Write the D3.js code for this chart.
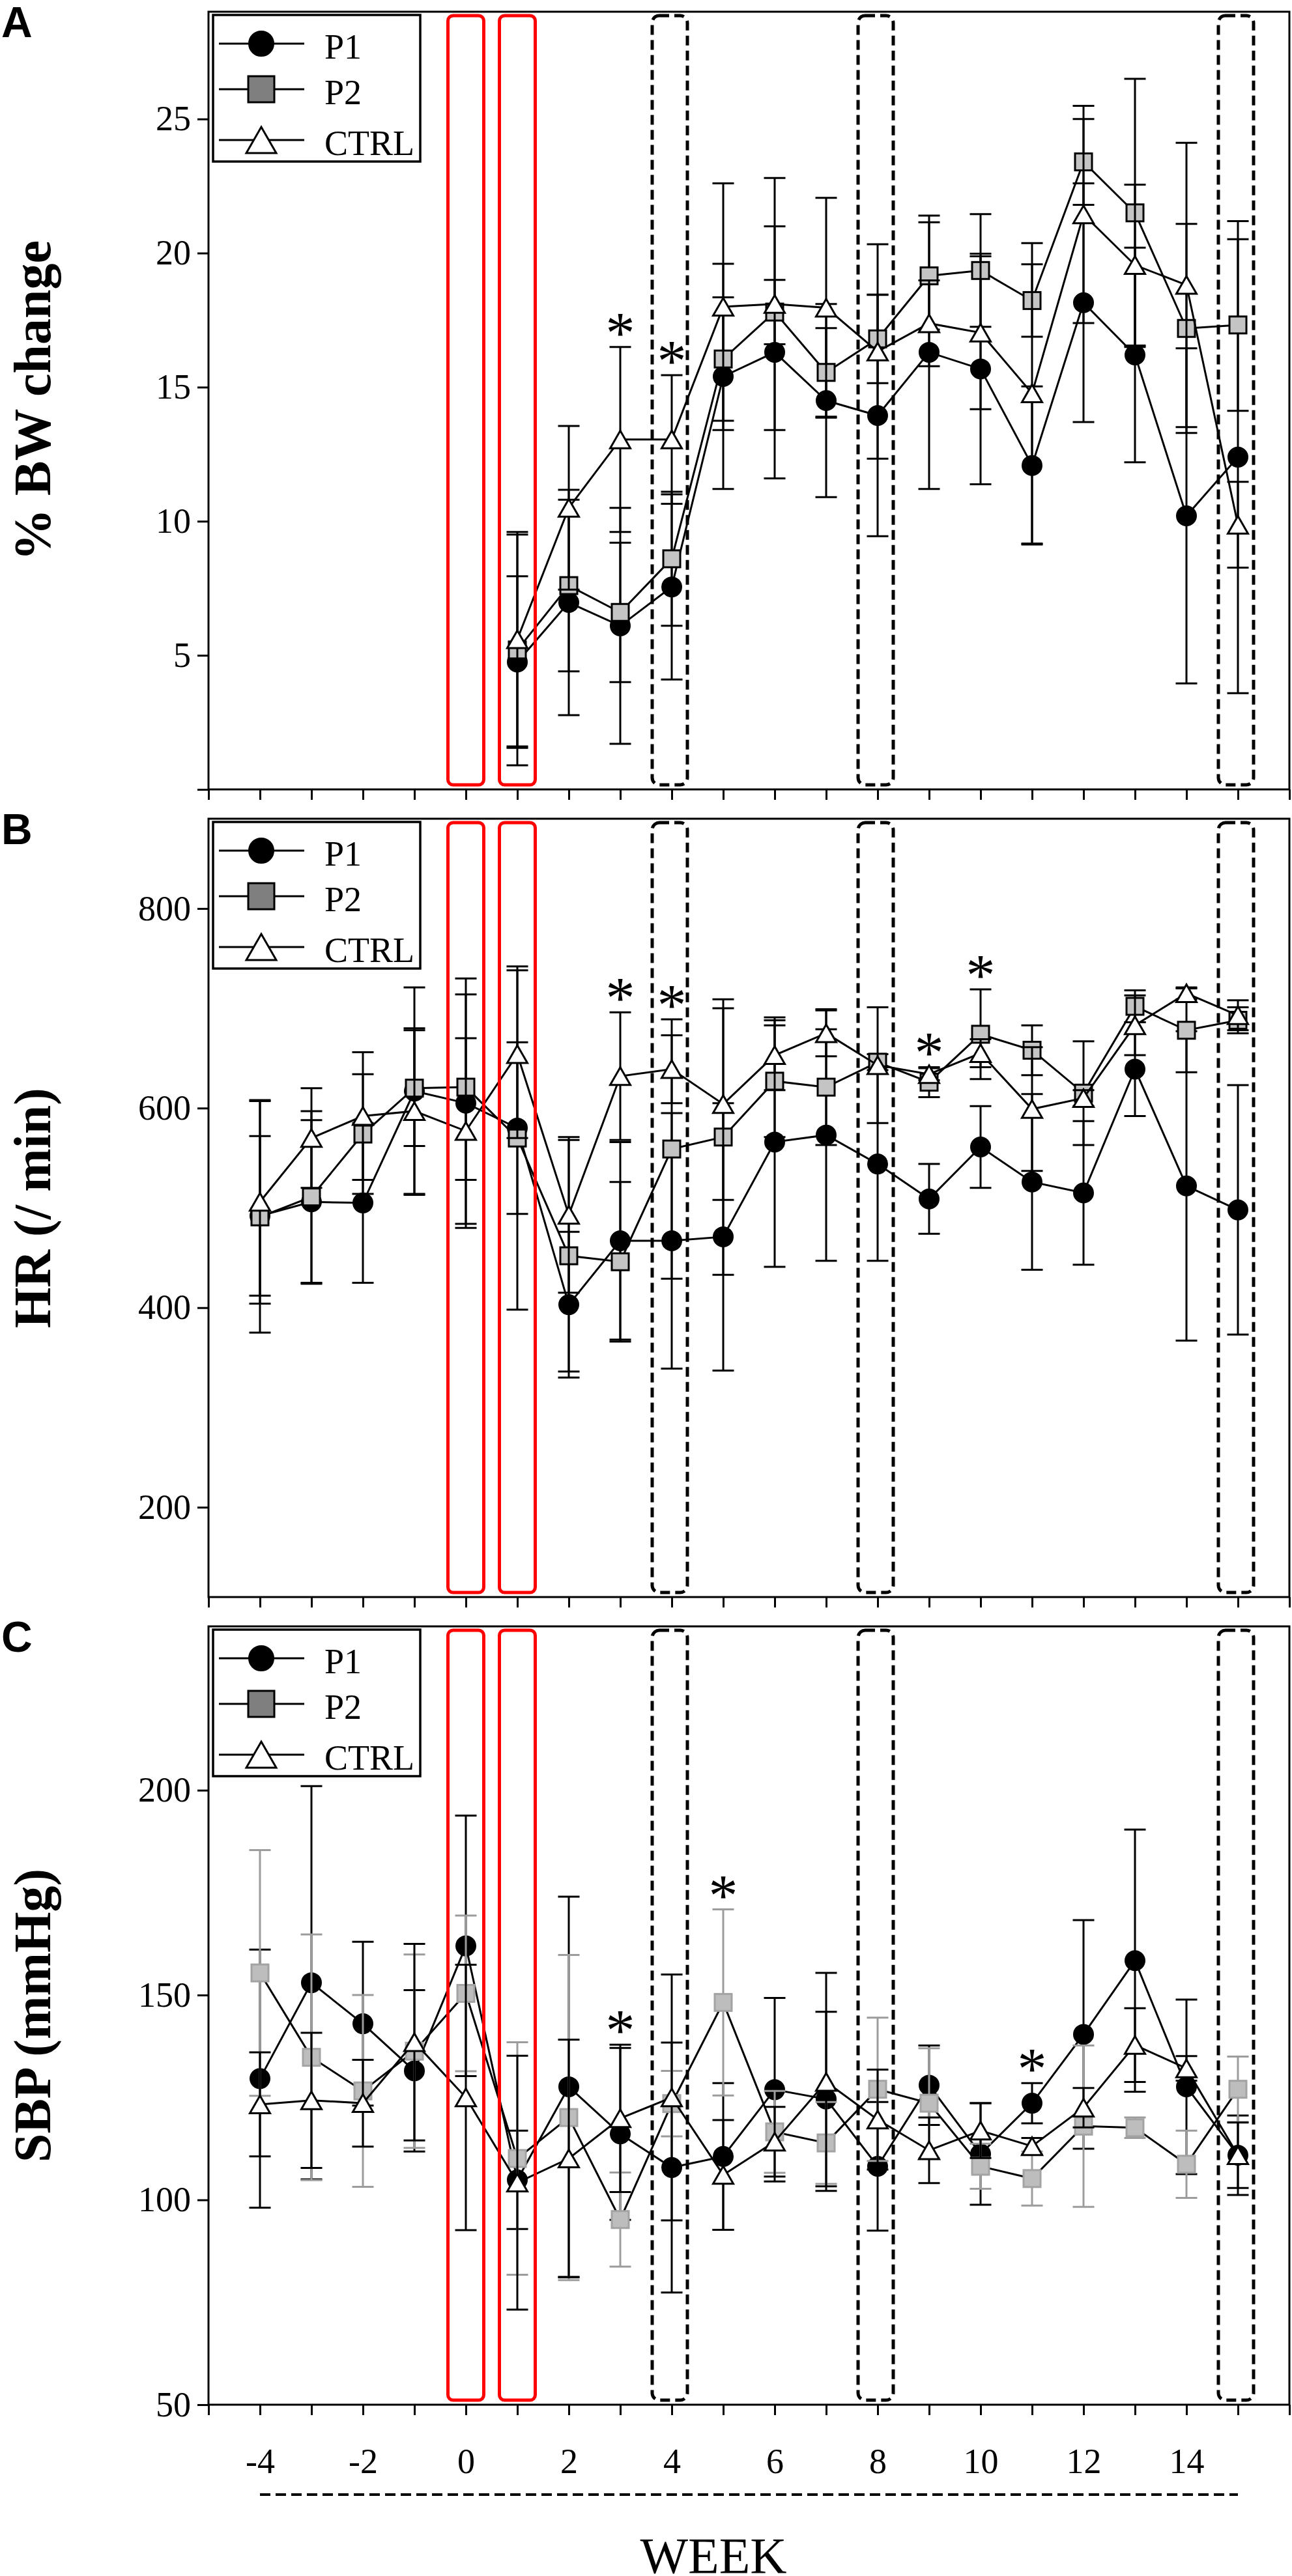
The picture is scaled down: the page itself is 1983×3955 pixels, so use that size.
<!DOCTYPE html>
<html>
<head>
<meta charset="utf-8">
<script src="https://cdn.jsdelivr.net/npm/d3@7"></script>
<style>
  body { margin: 0; background: #fff; }
</style>
</head>
<body>
<svg id="chart" width="1983" height="3955"></svg>
<script>
// weeks and ticks
const weeksA = d3.range(1, 16);
const weeksBC = d3.range(-4, 16);
const xTicks = d3.range(-5, 17);
const xLabels = [-4, -2, 0, 2, 4, 6, 8, 10, 12, 14];
const redWeeks = [0, 1];
const dashWeeks = [4, 8, 15];

// A: % body weight change (weeks 1..15)
const bwP1 = [4.75, 6.97, 6.1, 7.55, 15.4, 16.3, 14.5, 13.94, 16.3, 15.68, 12.08, 18.15, 16.2, 10.2, 12.39];
const bwP1Err = [3.2, 4.2, 4.4, 3.45, 4.2, 4.7, 3.6, 4.5, 5.1, 4.3, 2.95, 4.45, 4.0, 6.25, 8.8];
const bwP2 = [5.2, 7.6, 6.6, 8.6, 16.05, 17.8, 15.55, 16.8, 19.15, 19.35, 18.23, 23.4, 21.5, 17.19, 17.32];
const bwP2Err = [4.3, 3.2, 2.6, 2.5, 2.3, 1.2, 1.65, 1.65, 2.0, 2.1, 1.35, 1.6, 5.0, 3.9, 3.2];
const bwCtrl = [5.6, 10.5, 13.05, 13.05, 18.0, 18.1, 17.96, 16.33, 17.38, 17.03, 14.77, 21.44, 19.55, 18.81, 9.87];
const bwCtrlErr = [4.0, 3.05, 3.45, 2.4, 4.6, 4.7, 4.1, 4.0, 1.6, 2.85, 5.6, 4.05, 3.0, 5.3, 1.6];
const bwTicks = [0, 5, 10, 15, 20, 25];
const bwStars = [3, 4];

// B: heart rate (weeks -4..15)
const hrP1 = [492, 506, 505, 617, 605, 580, 403, 467, 467, 471, 566, 573, 544, 509, 561, 526, 515, 639, 522, 498];
const hrP1Err = [80, 82, 80, 104, 125, 86, 73, 99, 128, 134, 125, 126, 97, 35, 41, 88, 72, 47, 155, 125];
const hrP2 = [491, 511, 574, 620, 621, 570, 452, 446, 559, 571, 627, 621, 646, 626, 674, 658, 615, 702, 678, 688];
const hrP2Err = [116, 86, 60, 58, 93, 172, 116, 80, 130, 138, 56, 58, 8, 15, 45, 25, 52, 16, 42, 13];
const hrCtrl = [506, 570, 592, 597, 577, 654, 493, 632, 639, 604, 653, 675, 643, 634, 655, 599, 610, 683, 715, 693];
const hrCtrlErr = [102, 50, 64, 83, 93, 84, 78, 64, 34, 96, 35, 23, 58, 6, 14, 62, 8, 30, 6, 15];
const hrTicks = [200, 400, 600, 800];
const hrStars = [3, 4, 9, 10];

// C: systolic blood pressure (weeks -4..15)
const sbpP1 = [129.6, 153, 143, 131.5, 162, 104.9, 127.6, 116.1, 107.9, 110.6, 126.9, 124.6, 108.2, 128, 111.2, 123.6, 140.4, 158.4, 127.6, 110.9];
const sbpP1Err = [31.5, 48, 20, 19.7, 31.8, 12, 46.4, 21, 30.5, 17.9, 22.4, 21.3, 15.7, 9.7, 12.4, 4.9, 27.9, 32, 21.3, 9.7];
const sbpP2 = [155.4, 134.8, 126.6, 136.3, 150.4, 110.1, 120.1, 95.2, 123.5, 148.2, 116.6, 113.9, 127, 123.6, 108.2, 105.2, 118, 117.6, 108.7, 127];
const sbpP2Err = [30, 30, 23.4, 23.6, 19, 28.4, 39.7, 11.5, 8, 22.7, 10, 10, 17.5, 13.4, 5.5, 6.6, 19.7, 2.5, 8.2, 8];
const sbpCtrl = [123.3, 124.3, 123.6, 138.5, 125, 104.2, 110.1, 119.9, 125, 106.1, 114.2, 128.8, 119.6, 112.1, 116.9, 113.1, 122.5, 137.8, 132.1, 110.9];
const sbpCtrlErr = [12.7, 16.5, 10.6, 24, 32.4, 31, 29, 18, 30, 13.4, 8.5, 26.6, 12.2, 8, 6.7, 2, 4.8, 9, 3, 8];
const sbpTicks = [50, 100, 150, 200];
const sbpStars = [3, 5, 11];

const SERIF = '"Liberation Serif", "Times New Roman", Times, serif';

const svg = d3.select('#chart');
svg.append('rect').attr('width', 1983).attr('height', 3955).attr('fill', '#fff');

const x = d3.scaleLinear().domain([-5, 16]).range([320, 1979]);

// build series list for a panel
function makeSeries(weeks, p1, p1e, p2, p2e, c, ce, lightP2) {
    return [
        { name: 'P1', shape: 'circle', fill: '#000', stroke: '#000', bar: '#000',
          pts: weeks.map((w, i) => ({ w, m: p1[i], e: p1e[i] })) },
        { name: 'P2', shape: 'square', fill: lightP2 ? '#bdbdbd' : '#c4c4c4', stroke: lightP2 ? '#a3a3a3' : '#000', bar: lightP2 ? '#9c9c9c' : '#000',
          pts: weeks.map((w, i) => ({ w, m: p2[i], e: p2e[i] })) },
        { name: 'CTRL', shape: 'triangle', fill: '#fff', stroke: '#000', bar: '#000',
          pts: weeks.map((w, i) => ({ w, m: c[i], e: ce[i] })) }
    ];
}

const panels = [
    { letter: 'A', title: '% BW change', top: 18, bottom: 1212, domain: [0, 29], ticks: bwTicks, stars: bwStars, labels: false,
      series: makeSeries(weeksA, bwP1, bwP1Err, bwP2, bwP2Err, bwCtrl, bwCtrlErr, false) },
    { letter: 'B', title: 'HR (/ min)', top: 1257, bottom: 2452, domain: [110, 890], ticks: hrTicks, stars: hrStars, labels: false,
      series: makeSeries(weeksBC, hrP1, hrP1Err, hrP2, hrP2Err, hrCtrl, hrCtrlErr, false) },
    { letter: 'C', title: 'SBP (mmHg)', top: 2497, bottom: 3692, domain: [50, 240], ticks: sbpTicks, stars: sbpStars, labels: true,
      series: makeSeries(weeksBC, sbpP1, sbpP1Err, sbpP2, sbpP2Err, sbpCtrl, sbpCtrlErr, true) }
];

// draw a marker shape
function drawMarker(g, shape, cx, cy, sz, fill, stroke) {
    if (shape === 'circle') {
        g.append('circle').attr('cx', cx).attr('cy', cy).attr('r', sz.r)
            .attr('fill', fill).attr('stroke', stroke).attr('stroke-width', 2);
    } else if (shape === 'square') {
        g.append('rect').attr('x', cx - sz.sq / 2).attr('y', cy - sz.sq / 2)
            .attr('width', sz.sq).attr('height', sz.sq)
            .attr('fill', fill).attr('stroke', stroke).attr('stroke-width', 3);
    } else {
        const w = sz.tw / 2, h = sz.th / 2;
        g.append('path')
            .attr('d', `M${cx},${cy - h}L${cx + w},${cy + h}L${cx - w},${cy + h}Z`)
            .attr('fill', fill).attr('stroke', stroke).attr('stroke-width', 3)
            .attr('stroke-linejoin', 'miter');
    }
}

const dataSize = { r: 15, sq: 26, tw: 31, th: 27 };
const legendSize = { r: 19, sq: 40, tw: 46, th: 40 };

panels.forEach(p => {
    const y = d3.scaleLinear().domain(p.domain).range([p.bottom, p.top]);
    const g = svg.append('g');

    // y axis
    const yAxis = g.append('g').attr('transform', 'translate(320,0)')
        .call(d3.axisLeft(y).tickValues(p.ticks).tickSize(17).tickPadding(10)
            .tickFormat(d => (p.letter === 'A' && d === 0) ? '' : d));
    yAxis.select('.domain').remove();
    yAxis.selectAll('line').attr('stroke', '#000').attr('stroke-width', 3);
    yAxis.selectAll('text').style('font-family', SERIF).style('font-size', '54px').attr('fill', '#000');

    // x axis
    const xAxis = g.append('g').attr('transform', `translate(0,${p.bottom})`)
        .call(d3.axisBottom(x).tickValues(xTicks).tickSize(16).tickPadding(51)
            .tickFormat(d => (p.labels && xLabels.includes(d)) ? d : ''));
    xAxis.select('.domain').remove();
    xAxis.selectAll('line').attr('stroke', '#000').attr('stroke-width', 3);
    xAxis.selectAll('text').style('font-family', SERIF).style('font-size', '54px').attr('fill', '#000');

    // frame
    g.append('rect').attr('x', 320).attr('y', p.top).attr('width', 1979 - 320).attr('height', p.bottom - p.top)
        .attr('fill', 'none').attr('stroke', '#000').attr('stroke-width', 3);

    // series: lines, error bars, markers
    const line = d3.line().x(d => x(d.w)).y(d => y(d.m));
    p.series.forEach(s => {
        g.append('path').datum(s.pts).attr('d', line)
            .attr('fill', 'none').attr('stroke', '#000').attr('stroke-width', 3);
        const eb = g.append('g').attr('stroke', s.bar).attr('stroke-width', 3);
        s.pts.forEach(d => {
            const cx = x(d.w), y0 = y(d.m + d.e), y1 = y(d.m - d.e);
            eb.append('line').attr('x1', cx).attr('x2', cx).attr('y1', y0).attr('y2', y1);
            eb.append('line').attr('x1', cx - 16.5).attr('x2', cx + 16.5).attr('y1', y0).attr('y2', y0);
            eb.append('line').attr('x1', cx - 16.5).attr('x2', cx + 16.5).attr('y1', y1).attr('y2', y1);
        });
        s.pts.forEach(d => drawMarker(g, s.shape, x(d.w), y(d.m), dataSize, s.fill, s.stroke));
    });

    // significance asterisks above the highest error bar
    p.stars.forEach(w => {
        const tops = p.series.map(s => {
            const d = s.pts.find(q => q.w === w);
            return d ? d.m + d.e : -Infinity;
        });
        const cy = y(d3.max(tops)) - 33;
        g.append('text').attr('x', x(w)).attr('y', cy + 42)
            .attr('text-anchor', 'middle').style('font-family', SERIF).style('font-size', '90px').text('*');
    });

    // highlight boxes
    redWeeks.forEach(w => {
        g.append('rect').attr('x', x(w) - 27.5).attr('y', p.top + 6)
            .attr('width', 55).attr('height', p.bottom - p.top - 13)
            .attr('rx', 8).attr('fill', 'none').attr('stroke', '#ff0000').attr('stroke-width', 5);
    });
    dashWeeks.forEach(w => {
        g.append('rect').attr('x', x(w) - 3 - 27).attr('y', p.top + 6)
            .attr('width', 54).attr('height', p.bottom - p.top - 13)
            .attr('rx', 11).attr('fill', 'none').attr('stroke', '#000').attr('stroke-width', 5)
            .attr('stroke-dasharray', '15,8');
    });

    // legend
    const lg = g.append('g').attr('transform', `translate(0,${p.top})`);
    lg.append('rect').attr('x', 327).attr('y', 5).attr('width', 318).attr('height', 225)
        .attr('fill', '#fff').attr('stroke', '#000').attr('stroke-width', 3.5);
    const rows = [49, 119, 197];
    p.series.forEach((s, i) => {
        const ry = rows[i];
        lg.append('line').attr('x1', 336).attr('x2', 467).attr('y1', ry).attr('y2', ry)
            .attr('stroke', '#000').attr('stroke-width', 3);
        const fill = s.name === 'P2' ? '#7f7f7f' : s.fill;
        drawMarker(lg, s.shape, 401, ry, legendSize, fill, '#000');
        lg.append('text').attr('x', 498).attr('y', ry + 23)
            .style('font-family', SERIF).style('font-size', '54px').text(s.name);
    });

    // y title and panel letter
    g.append('text')
        .attr('transform', `translate(77,${(p.top + p.bottom) / 2}) rotate(-90)`)
        .attr('text-anchor', 'middle')
        .style('font-family', SERIF).style('font-size', '80px').style('font-weight', 'bold')
        .text(p.title);
    g.append('text').attr('x', 2).attr('y', p.top + 39)
        .style('font-family', '"Liberation Sans", Arial, sans-serif')
        .style('font-size', '66px').style('font-weight', 'bold')
        .text(p.letter);
});

// week bracket line and title
svg.append('line').attr('x1', x(-4)).attr('x2', x(15)).attr('y1', 3830).attr('y2', 3830)
    .attr('stroke', '#000').attr('stroke-width', 4).attr('stroke-dasharray', '16,8');
svg.append('text').attr('x', 1095).attr('y', 3950).attr('text-anchor', 'middle')
    .style('font-family', SERIF).style('font-size', '78px').text('WEEK');
</script>
</body>
</html>
